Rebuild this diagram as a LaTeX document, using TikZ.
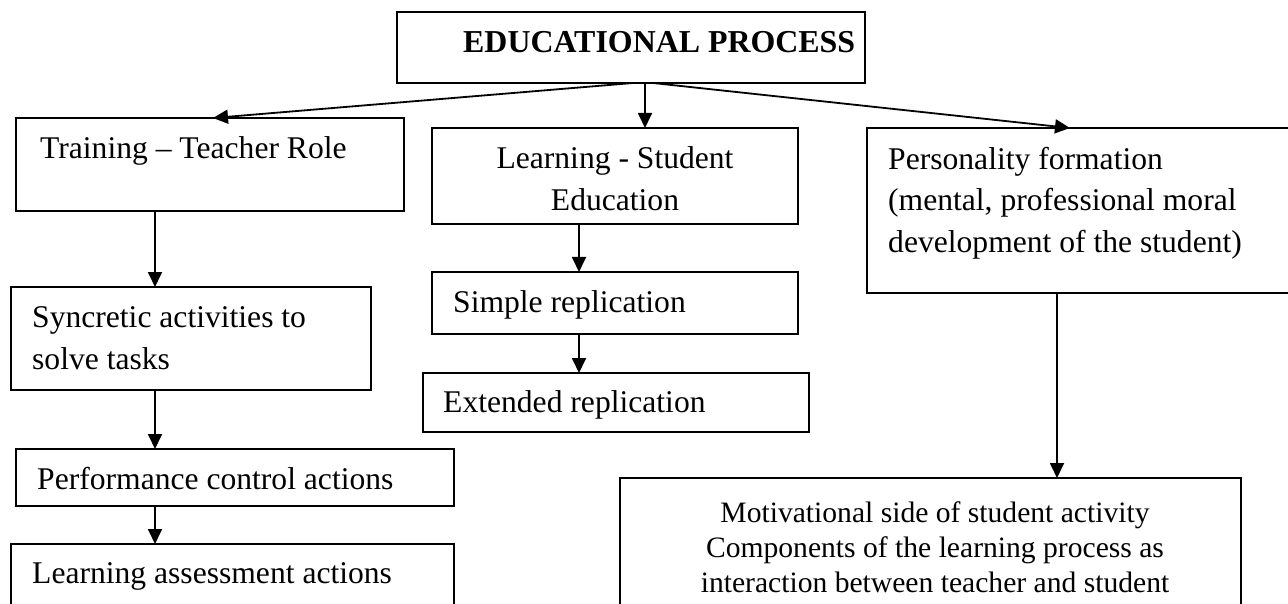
\documentclass[tikz,border=0pt]{standalone}
\usepackage{fontspec}
\setmainfont{Liberation Serif}
\usetikzlibrary{arrows.meta,calc}
\begin{document}
\begin{tikzpicture}[x=1pt,y=-1pt,
  box/.style={draw, line width=1.8pt, outer sep=0pt, inner sep=0pt, anchor=north west},
  txt/.style={inner sep=0pt, font=\fontsize{31.6}{42}\selectfont},
  arr/.style={line width=1.8pt, -{Triangle[length=15pt,width=14pt]}}]
\useasboundingbox (0,0) rectangle (1288,604);
\clip (0,0) rectangle (1288,604);
% boxes
\node[box, minimum width=468pt, minimum height=71pt]  (top)    at (397,12)  {};
\node[box, minimum width=388pt, minimum height=93pt]  (train)  at (16,118)  {};
\node[box, minimum width=366pt, minimum height=96pt]  (mid)    at (432,128) {};
\node[box, minimum width=440pt, minimum height=165pt] (pers)   at (867,128) {};
\node[box, minimum width=360pt, minimum height=103pt] (sync)   at (11,287)  {};
\node[box, minimum width=366pt, minimum height=62pt]  (simp)   at (432,272) {};
\node[box, minimum width=386pt, minimum height=59pt]  (ext)    at (423,373) {};
\node[box, minimum width=438pt, minimum height=57pt]  (perf)   at (16,449)  {};
\node[box, minimum width=443pt, minimum height=80pt]  (assess) at (11,544)  {};
\node[box, minimum width=621pt, minimum height=150pt] (motiv)  at (620,478) {};
% texts (multi-line nodes: base = baseline of last line)
\node[txt, font=\fontsize{31.9}{40}\selectfont\bfseries, anchor=base west] (topT) at (463,53) {EDUCATIONAL PROCESS};
\node[txt, anchor=base west] (trainT) at (40,159) {Training – Teacher Role};
\node[txt, anchor=base, align=center] (midT) at (615,211) {Learning - Student\\Education};
\node[txt, anchor=base west, align=left] (persT) at (888,253) {Personality formation\\(mental, professional moral\\development of the student)};
\node[txt, anchor=base west, align=left] (syncT) at (32,369) {Syncretic activities to\\solve tasks};
\node[txt, anchor=base west] (simpT) at (453,312) {Simple replication};
\node[txt, anchor=base west] (extT) at (443,412) {Extended replication};
\node[txt, anchor=base west] (perfT) at (37,489) {Performance control actions};
\node[txt, anchor=base west] (assessT) at (32,583) {Learning assessment actions};
\node[txt, font=\fontsize{29.6}{35}\selectfont, anchor=base, align=center] (motivT) at (935,592) {Motivational side of student activity\\Components of the learning process as\\interaction between teacher and student};
% connectors
\draw[arr] (top.south -| 633,0) -- (train.north -| 213,0);
\draw[arr] (top.south -| 645,0) -- (mid.north -| 645,0);
\draw[arr] (top.south -| 653,0) -- (pers.north -| 1070,0);
\draw[arr] (train.south -| 155,0) -- (sync.north -| 155,0);
\draw[arr] (sync.south -| 155,0) -- (perf.north -| 155,0);
\draw[arr] (perf.south -| 155,0) -- (assess.north -| 155,0);
\draw[arr] (mid.south -| 579,0) -- (simp.north -| 579,0);
\draw[arr] (simp.south -| 579,0) -- (ext.north -| 579,0);
\draw[arr] (pers.south -| 1057,0) -- (motiv.north -| 1057,0);
\end{tikzpicture}
\end{document}
